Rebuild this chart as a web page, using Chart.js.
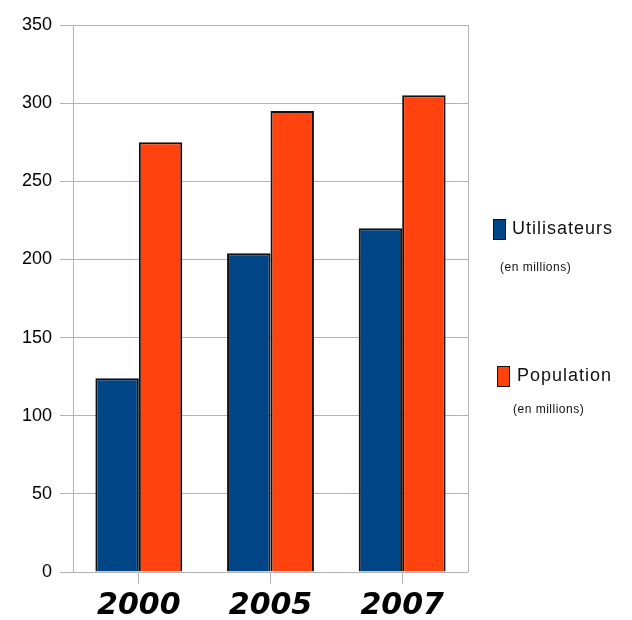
<!DOCTYPE html>
<html>
<head>
<meta charset="utf-8">
<script src="https://cdn.jsdelivr.net/npm/chart.js@4.4.1/dist/chart.umd.min.js"></script>
<style>
  html, body { margin: 0; padding: 0; background: #fff; }
  #wrap { width: 632px; height: 620px; position: relative; }
</style>
</head>
<body>
<div id="wrap"><canvas id="chart"></canvas></div>
<script>
// --- Data ---
const years = ['2000', '2005', '2007'];
const utilisateurs = [124, 204, 220]; // millions
const population = [275, 295, 305]; // millions
const seriesLabels = ['Utilisateurs', 'Population'];
const seriesNote = '(en millions)';
const yTicks = [0, 50, 100, 150, 200, 250, 300, 350];

const blue = '#004586';
const orange = '#ff420e';
const gridGray = '#b3b3b3';

// legend + right frame line, drawn by hand to look like the office chart
const sideLegend = {
  id: 'sideLegend',
  afterDraw(chart) {
    const { ctx, chartArea } = chart;
    ctx.save();
    // right border of plot
    ctx.strokeStyle = gridGray;
    ctx.lineWidth = 1;
    ctx.beginPath();
    ctx.moveTo(chartArea.right + 0.5, chartArea.top);
    ctx.lineTo(chartArea.right + 0.5, chartArea.bottom);
    ctx.stroke();

    const items = [
      { y: 229, sx: 493, tx: 512, nx: 500, ny: 268, color: blue },
      { y: 376, sx: 497, tx: 517, nx: 513, ny: 410, color: orange }
    ];
    items.forEach((it, i) => {
      ctx.fillStyle = it.color;
      ctx.fillRect(it.sx, it.y - 10, 13, 21);
      ctx.strokeStyle = '#111';
      ctx.lineWidth = 1;
      ctx.strokeRect(it.sx + 0.5, it.y - 9.5, 12, 20);
      ctx.fillStyle = '#111';
      ctx.textBaseline = 'middle';
      ctx.textAlign = 'left';
      ctx.font = '18px "Liberation Sans", Arial, sans-serif';
      ctx.letterSpacing = '1px';
      ctx.fillText(seriesLabels[i], it.tx, it.y);
      ctx.font = '12px "Liberation Sans", Arial, sans-serif';
      ctx.letterSpacing = '0.5px';
      ctx.fillText(seriesNote, it.nx, it.ny);
    });
    ctx.restore();
  }
};

const ctx = document.getElementById('chart').getContext('2d');
const chart = new Chart(ctx, {
  type: 'bar',
  data: {
    labels: years,
    datasets: [
      { label: seriesLabels[0], data: utilisateurs, backgroundColor: blue, borderColor: '#111', borderWidth: 2 },
      { label: seriesLabels[1], data: population, backgroundColor: orange, borderColor: '#111', borderWidth: 2 }
    ]
  },
  options: {
    responsive: true, maintainAspectRatio: false, animation: false,
    layout: { padding: { left: 0, right: 164, top: 25, bottom: 0 } },
    plugins: { legend: { display: false }, tooltip: { enabled: false } },
    datasets: { bar: { categoryPercentage: 0.66, barPercentage: 1.0 } },
    scales: {
      x: {
        grid: { offset: false, drawOnChartArea: false, drawTicks: true, tickLength: 12, color: gridGray },
        border: { display: false },
        ticks: { color: '#000', padding: 4, font: { family: '"DejaVu Sans", sans-serif', size: 30, style: 'italic', weight: 'bold' } },
        afterFit: (scale) => { scale.height = 48; }
      },
      y: {
        min: 0, max: 350,
        afterBuildTicks: (scale) => { scale.ticks = yTicks.map(v => ({ value: v })); },
        grid: { color: gridGray, tickLength: 13 },
        border: { color: gridGray },
        ticks: { color: '#000', padding: 8, font: { family: '"Liberation Sans", Arial, sans-serif', size: 18 } },
        afterFit: (scale) => { scale.width = 73; }
      }
    }
  },
  plugins: [sideLegend]
});
</script>
</body>
</html>
